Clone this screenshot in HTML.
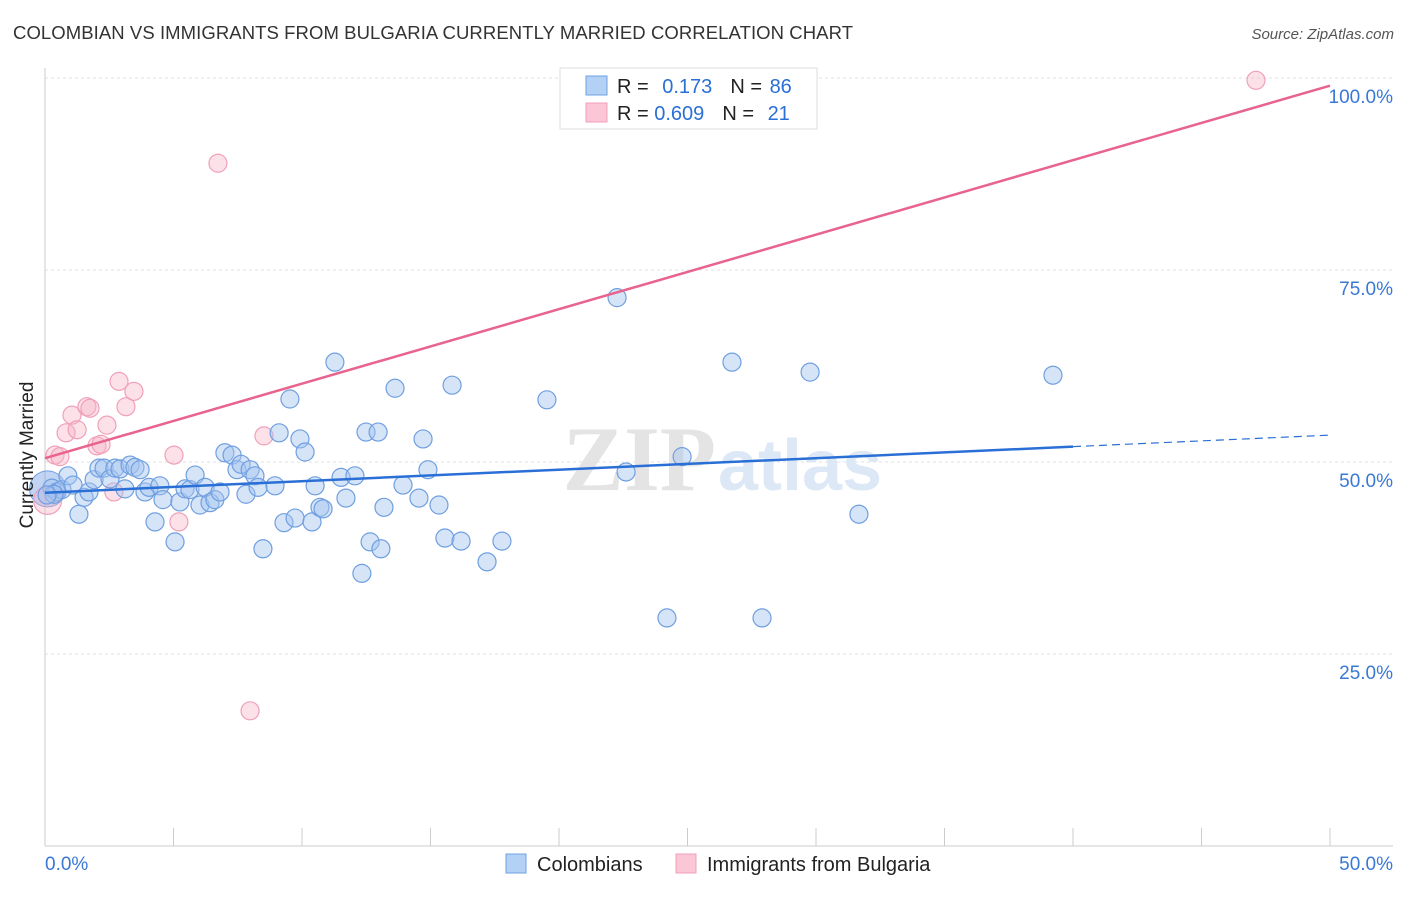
<!DOCTYPE html>
<html><head><meta charset="utf-8"><style>
body{margin:0;background:#fff;font-family:"Liberation Sans",sans-serif}
</style></head><body>
<svg width="1406" height="892" viewBox="0 0 1406 892" xmlns="http://www.w3.org/2000/svg">
<text x="13" y="39" font-size="18.5" fill="#333" textLength="840">COLOMBIAN VS IMMIGRANTS FROM BULGARIA CURRENTLY MARRIED CORRELATION CHART</text>
<text x="1394" y="39" font-size="15" fill="#555" font-style="italic" text-anchor="end">Source: ZipAtlas.com</text>
<g id="grid"></g>
<text x="716" y="490" font-size="92" fill="#e4e4e4" text-anchor="end" font-family="Liberation Serif,serif" font-weight="bold">ZIP</text>
<text x="718" y="490" font-size="72" fill="#dde8f6" font-weight="bold">atlas</text>
<g id="axes"></g>
<g id="pts"></g>
<g id="lines"></g>
<text x="33" y="455" font-size="19" fill="#222" text-anchor="middle" transform="rotate(-90 33 455)">Currently Married</text>
<g>
<rect x="560" y="68" width="257" height="61" fill="#fff" stroke="#ddd"/>
<rect x="586" y="76" width="21" height="19" fill="#b3d0f5" stroke="#6f9fe0"/>
<rect x="586" y="103" width="21" height="19" fill="#fbc6d6" stroke="#f0a0b8"/>
<text x="617" y="93" font-size="20" fill="#222">R = <tspan fill="#2a6fd6" dx="8">0.173</tspan><tspan fill="#222" dx="18">N = </tspan><tspan fill="#2a6fd6" dx="2">86</tspan></text>
<text x="617" y="120" font-size="20" fill="#222">R = <tspan fill="#2a6fd6">0.609</tspan><tspan fill="#222" dx="18">N = </tspan><tspan fill="#2a6fd6" dx="8">21</tspan></text>
</g>
<g>
<rect x="506" y="854" width="20" height="19" fill="#b3d0f5" stroke="#6f9fe0"/>
<text x="537" y="871" font-size="20" fill="#222">Colombians</text>
<rect x="676" y="854" width="20" height="19" fill="#fbc6d6" stroke="#f0a0b8"/>
<text x="707" y="871" font-size="20" fill="#222">Immigrants from Bulgaria</text>
</g>
</svg>
<script>
const blueX=[0.27,0.47,0.66,0.89,1.09,1.32,1.52,1.71,1.91,2.10,2.30,2.53,2.72,2.92,3.11,3.31,3.50,3.70,3.89,4.05,4.28,4.47,4.59,5.06,5.25,5.45,5.64,5.84,6.03,6.23,6.42,6.61,6.81,7.00,7.28,7.47,7.63,7.82,7.98,8.17,8.29,8.48,8.95,9.11,9.30,9.73,9.92,10.12,10.39,10.51,10.70,10.82,11.28,11.52,11.71,12.06,12.33,12.49,12.65,12.96,13.07,13.19,13.62,13.93,14.55,14.71,14.90,15.33,15.56,15.84,16.19,17.20,17.78,19.53,22.26,22.61,24.20,24.79,26.73,27.90,29.77,31.67,39.22,9.53,0.35,0.08];
const blueY=[46.6,46.1,46.4,48.2,47.0,43.2,45.4,46.1,47.7,49.2,49.2,47.8,49.2,49.1,46.5,49.6,49.3,49.0,46.1,46.7,42.2,46.9,45.1,39.6,44.8,46.5,46.4,48.3,44.4,46.7,44.7,45.1,46.1,51.2,50.9,49.0,49.7,45.8,49.0,48.2,46.7,38.7,46.9,53.8,42.1,42.7,53.0,51.3,42.2,46.9,44.1,43.9,63.0,48.0,45.3,48.2,35.5,53.9,39.6,53.9,38.7,44.1,59.6,47.0,45.3,53.0,49.0,44.4,40.1,60.0,39.7,37.0,39.7,58.1,71.4,48.7,29.7,50.7,63.0,29.7,61.7,43.2,61.3,58.2,45.8,45.7];
const pinkX=[0.39,0.58,0.82,1.05,1.25,1.63,1.75,2.02,2.18,2.41,2.68,2.88,3.15,3.46,5.02,5.21,6.73,7.98,8.52,47.12,0.1];
const pinkY=[50.9,50.7,53.8,56.1,54.2,57.2,57.0,52.1,52.3,54.8,46.1,60.5,57.2,59.2,50.9,42.2,88.9,17.6,53.4,99.7,45.0];
const blueTrend=[46.0,0.15];   // intercept, slope
const pinkTrend=[50.5,0.97];
const yTicks=[25,50,75,100];
const yTickLabels=["25.0%","50.0%","75.0%","100.0%"];
const xTicks=[0,5,10,15,20,25,30,35,40,45,50];

const NS="http://www.w3.org/2000/svg";
const X=v=>45+v*25.7, Y=v=>846-v*7.68;
function mk(tag,attrs,parent){const e=document.createElementNS(NS,tag);for(const k in attrs)e.setAttribute(k,attrs[k]);document.getElementById(parent).appendChild(e);return e;}
yTicks.forEach((t,i)=>{
  const g=mk('line',{x1:45,x2:1393,y1:Y(t),y2:Y(t),stroke:'#e2e2e2','stroke-dasharray':'3,3'},'grid');
  
  
  const l=mk('text',{x:1393,y:Y(t)+25,'font-size':19,fill:'#3a78d6','text-anchor':'end'},'axes');
  l.textContent=yTickLabels[i];
  
  
});
const ax=mk('line',{x1:45,x2:45,y1:68,y2:846,stroke:'#ccc'},'axes');


const bx=mk('line',{x1:45,x2:1393,y1:846,y2:846,stroke:'#ccc'},'axes');


xTicks.forEach(t=>{
  const tk=mk('line',{x1:X(t),x2:X(t),y1:828,y2:846,stroke:'#ccc'},'axes');
  
  
});
[[0,'0.0%','start',45],[50,'50.0%','end',1393]].forEach(d=>{
  const l=mk('text',{x:d[3],y:870,'font-size':19,fill:'#3a78d6','text-anchor':d[2]},'axes');
  l.textContent=d[1];
  
  
});
const big=mk('circle',{cx:X(0.1),cy:Y(46.5),r:18,fill:'rgba(120,160,230,0.45)',stroke:'#6f9fe0'},'pts');


pinkX.forEach((x,i)=>{
  const c=mk('circle',{cx:X(x),cy:Y(pinkY[i]),r:i==pinkX.length-1?14:9,fill:'rgba(248,180,200,0.4)',stroke:'#f0a0b8','stroke-width':1.2},'pts');
  
  
});
blueX.forEach((x,i)=>{
  const c=mk('circle',{cx:X(x),cy:Y(blueY[i]),r:9,fill:'rgba(164,196,240,0.45)',stroke:'#6f9fe0','stroke-width':1.2},'pts');
  
  
});
const bl=mk('line',{x1:X(0),y1:Y(blueTrend[0]),x2:X(40),y2:Y(blueTrend[0]+blueTrend[1]*40),stroke:'#2a6fd6','stroke-width':2.5},'lines');


const bd=mk('line',{x1:X(40),y1:Y(blueTrend[0]+blueTrend[1]*40),x2:X(50),y2:Y(blueTrend[0]+blueTrend[1]*50),stroke:'#2a6fd6','stroke-width':1.2,'stroke-dasharray':'8,5'},'lines');


const pl=mk('line',{x1:X(0),y1:Y(pinkTrend[0]),x2:X(50),y2:Y(pinkTrend[0]+pinkTrend[1]*50),stroke:'#e8648e','stroke-width':2.5},'lines');


</script>
</body></html>
